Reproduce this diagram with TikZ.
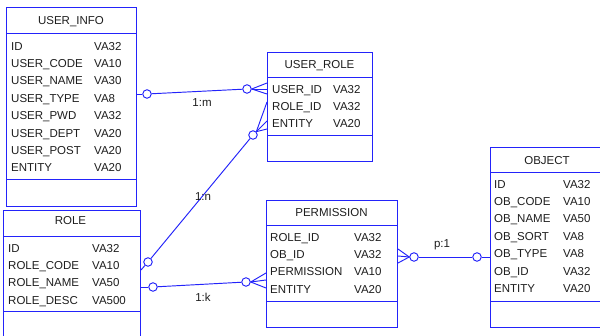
\documentclass[tikz,border=0pt]{standalone}
\usepackage{fontspec}
\setmainfont{Liberation Sans}
\definecolor{eb}{RGB}{35,35,250}
\definecolor{tx}{RGB}{30,30,30}
\begin{document}
\begin{tikzpicture}[x=1pt,y=-1pt,
 tbl/.style={draw=eb,line width=1pt,fill=white,inner sep=0,anchor=north west},
 sep/.style={draw=eb,line width=1pt},
 txt/.style={anchor=base west,inner sep=0,font=\fontsize{11.5}{13}\selectfont,text=tx},
 ttl/.style={anchor=base,inner sep=0,font=\fontsize{11.5}{13}\selectfont,text=tx},
 rel/.style={draw=eb,line width=0.95pt},
 circ/.style={circle,draw=eb,fill=white,minimum size=8.5pt,inner sep=0,line width=0.95pt},
 lbl/.style={inner sep=0,font=\fontsize{11.5}{13}\selectfont,text=tx}]
\useasboundingbox (0,0) rectangle (600,336);
\fill[white] (0,0) rectangle (600,336);

% USER_INFO
\node[tbl,minimum width=130pt,minimum height=199pt] (ui) at (6,7) {};
\draw[sep] (ui.west |- 0,34) -- (ui.east |- 0,34);
\draw[sep] (ui.west |- 0,180) -- (ui.east |- 0,180);
\node[ttl] (uit) at (71,24.2) {USER\_INFO};
\foreach \nm/\ty [count=\i] in {ID/VA32,USER\_CODE/VA10,USER\_NAME/VA30,USER\_TYPE/VA8,USER\_PWD/VA32,USER\_DEPT/VA20,USER\_POST/VA20,ENTITY/VA20}{
  \node[txt] (uin\i) at (11,{46+17.4*(\i-1)+4.2}) {\nm};
  \node[txt] (uit\i) at (94,{46+17.4*(\i-1)+4.2}) {\ty};
}

% USER_ROLE
\node[tbl,minimum width=105pt,minimum height=109pt] (ur) at (267,52) {};
\draw[sep] (ur.west |- 0,78) -- (ur.east |- 0,78);
\draw[sep] (ur.west |- 0,136) -- (ur.east |- 0,136);
\node[ttl] (urt) at (319.5,68.2) {USER\_ROLE};
\foreach \nm/\ty [count=\i] in {USER\_ID/VA32,ROLE\_ID/VA32,ENTITY/VA20}{
  \node[txt] (urn\i) at (272,{89+17*(\i-1)+4.2}) {\nm};
  \node[txt] (urt\i) at (333,{89+17*(\i-1)+4.2}) {\ty};
}

% ROLE
\node[tbl,minimum width=137pt,minimum height=135pt] (ro) at (3,210) {};
\draw[sep] (ro.west |- 0,237) -- (ro.east |- 0,237);
\draw[sep] (ro.west |- 0,312) -- (ro.east |- 0,312);
\node[ttl] (rot) at (70.5,225) {ROLE};
\foreach \nm/\ty [count=\i] in {ID/VA32,ROLE\_CODE/VA10,ROLE\_NAME/VA50,ROLE\_DESC/VA500}{
  \node[txt] (ron\i) at (8,{248+17.3*(\i-1)+4.2}) {\nm};
  \node[txt] (rot\i) at (92,{248+17.3*(\i-1)+4.2}) {\ty};
}

% PERMISSION
\node[tbl,minimum width=131pt,minimum height=127pt] (pe) at (266,200) {};
\draw[sep] (pe.west |- 0,226) -- (pe.east |- 0,226);
\draw[sep] (pe.west |- 0,302) -- (pe.east |- 0,302);
\node[ttl] (pet) at (331.5,216.2) {PERMISSION};
\foreach \nm/\ty [count=\i] in {ROLE\_ID/VA32,OB\_ID/VA32,PERMISSION/VA10,ENTITY/VA20}{
  \node[txt] (pen\i) at (270,{237+17.3*(\i-1)+4.2}) {\nm};
  \node[txt] (pet\i) at (354,{237+17.3*(\i-1)+4.2}) {\ty};
}

% OBJECT
\node[tbl,minimum width=116pt,minimum height=180pt] (ob) at (490,147) {};
\draw[sep] (ob.west |- 0,173) -- (ob.east |- 0,173);
\draw[sep] (ob.west |- 0,302) -- (ob.east |- 0,302);
\node[ttl] (obt) at (547,164.2) {OBJECT};
\foreach \nm/\ty [count=\i] in {ID/VA32,OB\_CODE/VA10,OB\_NAME/VA50,OB\_SORT/VA8,OB\_TYPE/VA8,OB\_ID/VA32,ENTITY/VA20}{
  \node[txt] (obn\i) at (494,{184+17.4*(\i-1)+4.2}) {\nm};
  \node[txt] (obt\i) at (563,{184+17.4*(\i-1)+4.2}) {\ty};
}

% relation circles
\node[circ] (c1) at (147,94) {};
\node[circ] (c2) at (247,89) {};
\node[circ] (c3) at (148,262) {};
\node[circ] (c4) at (253,135) {};
\node[circ] (c5) at (153,287) {};
\node[circ] (c6) at (246,282) {};
\node[circ] (c7) at (414,257) {};
\node[circ] (c8) at (477,257) {};

% 1:m
\draw[rel] (ui.east |- c1) -- (c1);
\draw[rel] (c1) -- (c2);
\draw[rel] (c2.east) -- (ur.west |- 0,83);
\draw[rel] (c2.east) -- (ur.west |- 0,89);
\draw[rel] (c2.east) -- (ur.west |- 0,94);
\node[lbl] (l1) at (202,103) {1:m};

% 1:n
\draw[rel] (ro.east |- 0,270) -- (c3);
\draw[rel] (c3) -- (c4);
\draw[rel] (c4.north east) -- (ur.west |- 0,102);
\draw[rel] (c4.north east) -- (ur.west |- 0,121);
\draw[rel] (c4.north east) -- (ur.west |- 0,129);
\node[lbl] (l2) at (203,197) {1:n};

% 1:k
\draw[rel] (ro.east |- c5) -- (c5);
\draw[rel] (c5) -- (c6);
\draw[rel] (c6.east) -- (pe.west |- 0,273);
\draw[rel] (c6.east) -- (pe.west |- 0,280);
\draw[rel] (c6.east) -- (pe.west |- 0,288);
\node[lbl] (l3) at (203,297) {1:k};

% p:1
\draw[rel] (c7.west) -- (pe.east |- 0,249);
\draw[rel] (c7.west) -- (pe.east |- 0,256);
\draw[rel] (c7.west) -- (pe.east |- 0,263);
\draw[rel] (c7) -- (c8);
\draw[rel] (c8) -- (ob.west |- c8);
\node[lbl] (l4) at (442,245) {p:1};
\end{tikzpicture}
\end{document}
